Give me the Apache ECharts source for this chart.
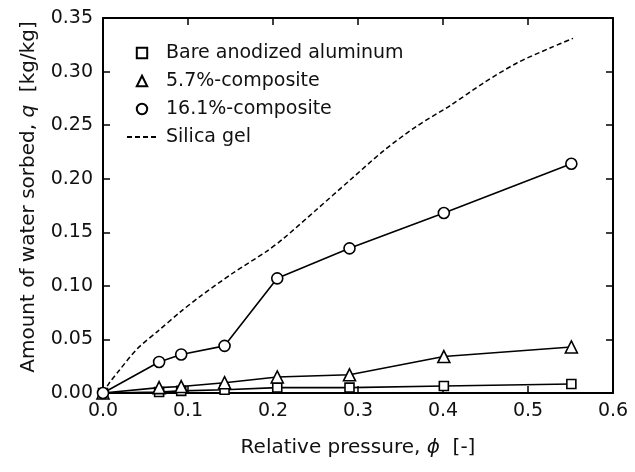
<!DOCTYPE html>
<html>
<head>
<meta charset="utf-8">
<script src="https://cdn.jsdelivr.net/npm/echarts@6/dist/echarts.min.js"></script>
<style>html,body{margin:0;padding:0;background:#fff}#c{width:635px;height:472px}</style>
</head>
<body>
<div id="c"></div>
<script>
var xPoints = [0, 0.066, 0.092, 0.143, 0.205, 0.29, 0.401, 0.551];
var bareAl = [0, 0.001, 0.002, 0.003, 0.005, 0.005, 0.0065, 0.0084];
var comp57 = [0, 0.005, 0.006, 0.0096, 0.015, 0.017, 0.034, 0.043];
var comp161 = [0, 0.029, 0.036, 0.044, 0.107, 0.135, 0.168, 0.214];
var silicaX = [0, 0.008, 0.018, 0.040, 0.065, 0.090, 0.114, 0.153, 0.192, 0.212, 0.251, 0.291, 0.330, 0.369, 0.408, 0.447, 0.487, 0.526, 0.553];
var silicaY = [0, 0.010, 0.020, 0.041, 0.058, 0.075, 0.090, 0.112, 0.132, 0.144, 0.171, 0.199, 0.226, 0.249, 0.268, 0.289, 0.308, 0.322, 0.331];
var seriesNames = ['Bare anodized aluminum', '5.7%-composite', '16.1%-composite', 'Silica gel'];

function pairs(xs, ys) { return xs.map(function (x, i) { return [x, ys[i]]; }); }

var FONT = 'DejaVu Sans';
var chart = echarts.init(document.getElementById('c'), null, {renderer: 'canvas'});
function axLine() { return {show: true, onZero: false, lineStyle: {color: '#000', width: 2}}; }
function axTick() { return {show: true, inside: true, length: 7, lineStyle: {color: '#000', width: 1.5}}; }
var markerStyle = {color: '#fff', borderColor: '#000', borderWidth: 1.6};
var option = {
  animation: false,
  backgroundColor: '#fff',
  grid: {left: 103, right: 22, top: 18, bottom: 79, containLabel: false},
  legend: {
    left: 126, top: 43, padding: 0, orient: 'vertical',
    itemWidth: 30, itemHeight: 13, itemGap: 8,
    textStyle: {fontFamily: FONT, fontSize: 19, color: '#111', lineHeight: 20, padding: [0, 0, 0, 4]},
    data: [
      {name: seriesNames[0], lineStyle: {opacity: 0}},
      {name: seriesNames[1], lineStyle: {opacity: 0}},
      {name: seriesNames[2], lineStyle: {opacity: 0}},
      {name: seriesNames[3], itemStyle: {opacity: 0}}
    ]
  },
  xAxis: [{
    type: 'value', min: 0, max: 0.6, interval: 0.1, position: 'bottom',
    name: 'Relative pressure, {i|\u03d5}  [-]', nameLocation: 'middle', nameGap: 45,
    nameTextStyle: {fontFamily: FONT, fontSize: 20, color: '#111', rich: {i: {fontFamily: FONT, fontSize: 20, fontStyle: 'italic', color: '#111'}}},
    axisLine: axLine(), axisTick: axTick(), splitLine: {show: false},
    axisLabel: {fontFamily: FONT, fontSize: 19, color: '#111', margin: 9, formatter: function (v) { return v.toFixed(1); }}
  }, {
    type: 'value', min: 0, max: 0.6, interval: 0.1, position: 'top',
    axisLine: axLine(), axisTick: axTick(), splitLine: {show: false}, axisLabel: {show: false}
  }],
  yAxis: [{
    type: 'value', min: 0, max: 0.35, interval: 0.05, position: 'left',
    name: 'Amount of water sorbed, {i|q}  [kg/kg]', nameLocation: 'middle', nameGap: 64,
    nameTextStyle: {fontFamily: FONT, fontSize: 20, color: '#111', padding: [0, 0, 0, 17],
      rich: {i: {fontFamily: FONT, fontSize: 20, fontStyle: 'italic', color: '#111'}}},
    axisLine: axLine(), axisTick: axTick(), splitLine: {show: false},
    axisLabel: {fontFamily: FONT, fontSize: 19, color: '#111', margin: 10, formatter: function (v) { return v.toFixed(2); }}
  }, {
    type: 'value', min: 0, max: 0.35, interval: 0.05, position: 'right',
    axisLine: axLine(), axisTick: axTick(), splitLine: {show: false}, axisLabel: {show: false}
  }],
  series: [
    {name: seriesNames[3], type: 'line', data: pairs(silicaX, silicaY), smooth: 0.3, symbol: 'none',
     lineStyle: {color: '#000', width: 1.5, type: [5, 3]}, itemStyle: {color: '#000'}, z: 1},
    {name: seriesNames[0], type: 'line', data: pairs(xPoints, bareAl), symbol: 'rect', symbolSize: 9,
     lineStyle: {color: '#000', width: 1.6}, itemStyle: markerStyle, z: 2},
    {name: seriesNames[1], type: 'line', data: pairs(xPoints, comp57), symbol: 'triangle', symbolSize: 12,
     lineStyle: {color: '#000', width: 1.6}, itemStyle: markerStyle, z: 3},
    {name: seriesNames[2], type: 'line', data: pairs(xPoints, comp161), symbol: 'circle', symbolSize: 11,
     lineStyle: {color: '#000', width: 1.6}, itemStyle: markerStyle, z: 4}
  ]
};
chart.setOption(option);
</script>
</body>
</html>
